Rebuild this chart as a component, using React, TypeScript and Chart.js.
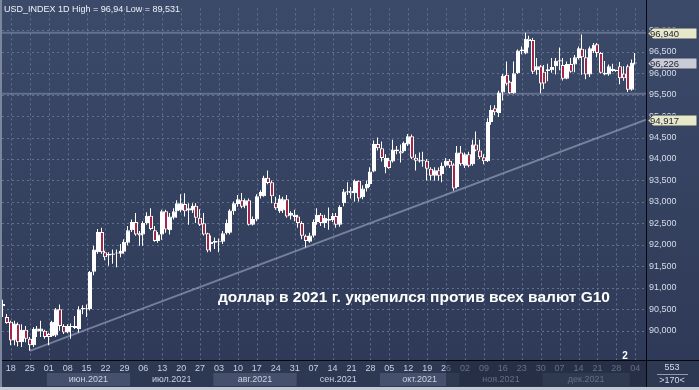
import React, { useEffect, useRef } from 'react';
import { Chart, registerables } from 'chart.js';

Chart.register(...registerables);

const title = 'USD_INDEX 1D High = 96,94 Low = 89,531';
const note = 'доллар в 2021 г. укрепился против всех валют G10';

const opens = [
  90.57, 90.32, 90.21, 89.77, 90.15, 89.73, 90.02, 89.81, 89.66, 89.98,
  89.98, 90.0, 89.92, 89.87, 89.89, 90.5, 90.11, 89.96, 90.11, 90.11,
  90.04, 90.5, 90.52, 90.5, 91.37, 91.83, 92.3, 91.83, 91.75, 91.77,
  91.8, 91.79, 91.84, 92.05, 92.34, 92.53, 92.27, 92.24, 92.51, 92.68,
  92.34, 92.09, 92.24, 92.78, 92.34, 92.63, 92.78, 92.8, 92.95, 92.8,
  92.8, 92.91, 92.63, 92.5, 92.27, 92.02, 92.05, 92.07, 92.07, 92.27,
  92.28, 92.78, 92.95, 93.04, 92.91, 93.04, 92.47, 92.59, 93.13, 93.13,
  93.56, 93.46, 92.98, 92.78, 92.8, 93.06, 92.68, 92.65, 92.66, 92.51,
  92.21, 92.07, 92.21, 92.53, 92.7, 92.51, 92.56, 92.58, 92.67, 92.47,
  92.97, 93.22, 93.26, 93.2, 93.49, 93.11, 93.31, 93.42, 93.71, 94.35,
  94.25, 93.81, 93.97, 93.94, 94.18, 94.18, 94.18, 94.34, 94.53, 94.03,
  93.94, 93.96, 93.96, 93.77, 93.61, 93.74, 93.65, 93.84, 93.96, 93.87,
  93.35, 94.15, 93.84, 94.11, 93.88, 94.34, 94.2, 94.04, 93.95, 94.86,
  95.18, 95.07, 95.55, 95.96, 95.8, 95.53, 96.0, 96.51, 96.46, 96.8,
  96.77, 96.07, 96.16, 96.03, 96.05, 96.07, 96.16, 96.27, 96.19, 95.87,
  96.21, 96.2, 96.35, 96.57, 96.37, 95.97, 96.51, 96.67, 96.47, 96.01,
  95.97, 96.05, 96.06, 96.16, 95.99, 96.16, 95.61, 96.24,
];
const highs = [
  90.72, 90.39, 90.23, 90.23, 90.19, 90.15, 90.11, 89.85, 90.08, 90.11,
  90.23, 90.02, 89.95, 90.23, 90.53, 90.61, 90.15, 90.15, 90.17, 90.34,
  90.57, 90.59, 90.61, 91.39, 91.98, 92.37, 92.4, 91.86, 91.83, 91.89,
  91.89, 92.02, 92.13, 92.44, 92.59, 92.74, 92.32, 92.55, 92.76, 92.85,
  92.44, 92.3, 92.82, 92.82, 92.74, 92.85, 93.04, 93.18, 93.2, 92.97,
  92.97, 92.97, 92.83, 92.74, 92.28, 92.22, 92.17, 92.15, 92.32, 92.59,
  92.83, 93.01, 93.16, 93.21, 93.08, 93.08, 92.66, 93.18, 93.27, 93.61,
  93.73, 93.5, 93.12, 93.16, 93.12, 93.16, 92.78, 92.82, 92.7, 92.55,
  92.24, 92.28, 92.59, 92.85, 92.74, 92.7, 92.87, 92.74, 92.74, 92.92,
  93.3, 93.46, 93.35, 93.52, 93.5, 93.39, 93.5, 93.81, 94.43, 94.5,
  94.41, 94.11, 94.03, 94.45, 94.3, 94.34, 94.41, 94.58, 94.57, 94.11,
  94.15, 94.17, 94.0, 93.81, 93.81, 93.8, 93.92, 94.02, 94.0, 93.9,
  94.3, 94.3, 94.15, 94.17, 94.45, 94.64, 94.45, 94.11, 94.95, 95.25,
  95.25, 95.59, 95.98, 96.27, 95.82, 96.27, 96.55, 96.62, 96.94, 96.87,
  96.82, 96.35, 96.19, 96.19, 96.22, 96.35, 96.35, 96.6, 96.35, 96.27,
  96.35, 96.42, 96.62, 96.9, 96.55, 96.62, 96.7, 96.7, 96.49, 96.28,
  96.2, 96.22, 96.08, 96.26, 96.16, 96.2, 96.32, 96.47,
];
const lows = [
  90.32, 90.16, 89.66, 89.66, 89.63, 89.62, 89.73, 89.531, 89.62, 89.85,
  89.85, 89.81, 89.66, 89.85, 89.85, 90.0, 89.92, 89.94, 89.81, 90.04,
  89.96, 90.38, 90.32, 90.47, 91.29, 91.79, 91.79, 91.64, 91.51, 91.56,
  91.48, 91.71, 91.79, 91.99, 92.3, 92.21, 91.98, 91.98, 92.47, 92.34,
  92.07, 92.05, 92.12, 92.28, 92.24, 92.59, 92.63, 92.76, 92.66, 92.47,
  92.74, 92.51, 92.44, 92.22, 91.83, 91.84, 91.9, 91.83, 92.02, 92.24,
  92.24, 92.7, 92.89, 92.85, 92.85, 92.45, 92.45, 92.55, 93.08, 93.12,
  93.41, 92.97, 92.82, 92.74, 92.74, 92.63, 92.59, 92.55, 92.4, 92.13,
  91.94, 92.05, 92.17, 92.47, 92.44, 92.4, 92.35, 92.53, 92.4, 92.42,
  92.9, 93.16, 93.08, 93.01, 93.01, 93.06, 93.24, 93.35, 93.69, 94.2,
  93.94, 93.67, 93.77, 93.92, 94.11, 93.92, 94.15, 94.3, 94.0, 93.73,
  93.92, 93.82, 93.5, 93.5, 93.49, 93.5, 93.46, 93.81, 93.79, 93.26,
  93.31, 93.84, 93.79, 93.81, 93.84, 94.18, 94.0, 93.88, 93.93, 94.8,
  95.02, 94.98, 95.36, 95.71, 95.52, 95.52, 95.98, 96.44, 96.44, 96.6,
  95.98, 95.96, 95.53, 95.63, 95.81, 96.01, 95.97, 96.07, 95.83, 95.86,
  96.01, 96.02, 96.32, 95.96, 95.86, 95.91, 96.47, 96.37, 95.99, 95.95,
  95.94, 96.03, 96.03, 95.74, 95.82, 95.56, 95.59, 96.2,
];
const closes = [
  90.62, 90.18, 89.77, 90.17, 89.73, 90.02, 89.81, 89.66, 90.04, 90.05,
  90.05, 89.85, 89.85, 90.21, 90.5, 90.11, 89.96, 90.11, 90.08, 90.06,
  90.5, 90.53, 90.5, 91.37, 91.89, 92.3, 91.83, 91.71, 91.79, 91.8,
  91.82, 91.86, 92.07, 92.34, 92.53, 92.24, 92.22, 92.51, 92.68, 92.37,
  92.09, 92.24, 92.78, 92.36, 92.66, 92.78, 92.97, 92.97, 92.78, 92.85,
  92.91, 92.63, 92.47, 92.24, 91.87, 92.07, 92.09, 92.06, 92.27, 92.51,
  92.8, 92.97, 93.06, 92.89, 93.04, 92.47, 92.6, 93.13, 93.23, 93.56,
  93.44, 93.13, 92.85, 93.08, 93.06, 92.66, 92.74, 92.7, 92.51, 92.21,
  92.09, 92.22, 92.53, 92.7, 92.51, 92.63, 92.6, 92.67, 92.47, 92.88,
  93.24, 93.25, 93.2, 93.49, 93.08, 93.31, 93.42, 93.71, 94.35, 94.25,
  94.02, 94.02, 93.79, 94.22, 94.22, 94.13, 94.38, 94.53, 94.03, 93.96,
  93.97, 93.98, 93.77, 93.61, 93.74, 93.61, 93.84, 93.96, 93.84, 93.31,
  94.15, 93.88, 94.11, 93.84, 94.34, 94.2, 94.04, 93.95, 94.86, 95.14,
  95.09, 95.55, 95.94, 95.75, 95.53, 96.0, 96.53, 96.55, 96.8, 96.75,
  96.03, 96.16, 95.76, 95.76, 96.09, 96.14, 96.29, 96.3, 95.87, 96.21,
  96.03, 96.37, 96.58, 96.37, 95.97, 96.58, 96.66, 96.47, 96.01, 95.97,
  96.16, 96.1, 96.05, 95.88, 95.88, 95.61, 96.24, 96.226,
];

const weekTickLabels = [
  '18', '25', '01', '08', '15', '22', '29', '06', '13', '20', '27', '03',
  '10', '17', '24', '31', '07', '14', '21', '28', '05', '12', '19', '26',
  '02', '09', '16', '23', '30', '07', '14', '21', '28', '04',
];
const weekTickIndex = [
  2, 7, 12, 17, 22, 27, 32, 37, 42, 47, 52, 57, 62, 67, 72, 77, 82, 87,
  92, 97, 102, 107, 112, 117, 122, 127, 132, 137, 142, 147, 152, 157, 162, 167,
];
const monthLabels = ['июн.2021', 'июл.2021', 'авг.2021', 'сен.2021', 'окт.2021', 'ноя.2021', 'дек.2021', 'янв.2022'];
const monthStartIndex = [12, 34, 56, 78, 100, 121, 143, 166];
const yTickValues = [90, 90.5, 91, 91.5, 92, 92.5, 93, 93.5, 94, 94.5, 95, 95.5, 96, 96.5, 97];

const xMin = -0.3435;
const xMax = 169.83;
const yMin = 89.317;
const yMax = 97.508;

const highLevel = 96.94;
const supportLevel = 95.52;
const trendIdx = [7, 169.83];
const trendVals = [89.531, 94.917];
const tagValues = [96.94, 96.226, 94.917];
const tagTexts = ['96,940', '96,226', '94,917'];
const dimFromIndex = 117;
const barCount = '553';
const visibleCount = '>170<';

const FONT = '"Liberation Sans", Arial, sans-serif';
const GRID = '#63718f';

const customPlugin = {
  id: 'terminalLook',
  afterDatasetsUpdate(chart: any) {
    chart.data.datasets.forEach((ds: any, di: number) => {
      const meta = chart.getDatasetMeta(di);
      if (ds.label === 'body') meta.data.forEach((el: any) => { el.x = Math.round(el.x); });
      if (ds.label === 'wick') meta.data.forEach((el: any) => { el.x = Math.round(el.x) - 0.5; });
    });
  },
  beforeDraw(chart: any) {
    const { ctx, width, height, chartArea } = chart;
    const xs = chart.scales.x;
    ctx.save();
    const g = ctx.createLinearGradient(0, 0, 0, chartArea.bottom);
    g.addColorStop(0, '#3c4a6a');
    g.addColorStop(1, '#2e3a57');
    ctx.fillStyle = g;
    ctx.fillRect(0, 0, width, height);
    ctx.fillStyle = '#2d3853';
    ctx.fillRect(0, chartArea.bottom, width, height - chartArea.bottom);
    ctx.beginPath();
    ctx.rect(chartArea.left, chartArea.bottom, chartArea.right - chartArea.left, height - chartArea.bottom);
    ctx.clip();
    for (let m = 0; m < monthStartIndex.length; m++) {
      const x0 = xs.getPixelForValue(monthStartIndex[m] - 0.5);
      const x1 = m + 1 < monthStartIndex.length ? xs.getPixelForValue(monthStartIndex[m + 1] - 0.5) : chartArea.right + 60;
      if (m % 2 === 0) {
        ctx.fillStyle = '#45516c';
        ctx.fillRect(x0, 373, x1 - x0, 13);
      }
      ctx.fillStyle = '#c9d1e0';
      ctx.font = '9px ' + FONT;
      ctx.textAlign = 'center';
      ctx.textBaseline = 'middle';
      ctx.fillText(monthLabels[m], (x0 + x1) / 2, 380);
    }
    ctx.restore();
  },
  beforeDatasetsDraw(chart: any) {
    const { ctx, chartArea } = chart;
    const xs = chart.scales.x;
    const ys = chart.scales.y;
    ctx.save();
    ctx.strokeStyle = GRID;
    ctx.lineWidth = 1;
    ctx.setLineDash([2, 3]);
    ctx.beginPath();
    weekTickIndex.forEach((v) => {
      const x = Math.round(xs.getPixelForValue(v)) + 0.5;
      ctx.moveTo(x, chartArea.top);
      ctx.lineTo(x, chartArea.bottom);
    });
    yTickValues.forEach((v) => {
      const y = Math.round(ys.getPixelForValue(v)) + 0.5;
      ctx.moveTo(chartArea.left, y);
      ctx.lineTo(chartArea.right, y);
    });
    ctx.stroke();
    ctx.restore();
  },
  afterDraw(chart: any) {
    const { ctx, width, height, chartArea } = chart;
    const xs = chart.scales.x;
    const ys = chart.scales.y;
    ctx.save();
    const dx = xs.getPixelForValue(dimFromIndex);
    ctx.fillStyle = 'rgba(34,42,62,0.6)';
    ctx.fillRect(dx, chartArea.bottom + 1, chartArea.right - dx, 386 - chartArea.bottom - 1);
    ctx.fillStyle = '#05070c';
    ctx.fillRect(chartArea.right, 0, 1, 387);
    ctx.fillRect(0, chartArea.bottom, width, 1);
    ctx.fillStyle = '#eef1f6';
    ctx.font = '9px ' + FONT;
    ctx.textAlign = 'left';
    ctx.textBaseline = 'middle';
    ctx.fillText(title, 4, 9.5);
    ctx.font = 'bold 15.5px ' + FONT;
    ctx.fillStyle = '#ffffff';
    ctx.fillText(note, 218, 298);
    ctx.font = 'bold 10px ' + FONT;
    ctx.textAlign = 'center';
    ctx.fillText('2', 625, 356);
    const fills = ['#e7e7c9', '#c9ccd8', '#e7e7c9'];
    tagValues.forEach((v, k) => {
      const y = Math.round(ys.getPixelForValue(v)) + 0.5;
      const l = chartArea.right + 1;
      ctx.beginPath();
      ctx.moveTo(l + 1, y);
      ctx.lineTo(l + 6, y - 5.5);
      ctx.lineTo(width - 2, y - 5.5);
      ctx.lineTo(width - 2, y + 5.5);
      ctx.lineTo(l + 6, y + 5.5);
      ctx.closePath();
      ctx.fillStyle = fills[k];
      ctx.fill();
      ctx.strokeStyle = '#3a4258';
      ctx.lineWidth = 1;
      ctx.stroke();
      ctx.fillStyle = '#1d2230';
      ctx.font = '9.5px ' + FONT;
      ctx.textAlign = 'left';
      ctx.textBaseline = 'middle';
      ctx.fillText(tagTexts[k], l + 3, y + 0.5);
    });
    ctx.fillStyle = '#d6dcea';
    ctx.font = '9px ' + FONT;
    ctx.textAlign = 'center';
    ctx.fillText(barCount, 672, 368);
    ctx.fillText(visibleCount, 672, 381);
    ctx.fillStyle = '#8f9ab0';
    ctx.fillRect(657, 374, 31, 1);
    ctx.fillStyle = '#7c879b';
    ctx.fillRect(0, 0, 2, height);
    ctx.fillStyle = '#c3cad4';
    ctx.fillRect(0, 387, width, 3);
    ctx.restore();
  },
};

const bodyColors = opens.map((o, i) => (closes[i] >= o ? '#ffffff' : '#a3264a'));

export default function App() {
  const ref = useRef<HTMLCanvasElement>(null);
  useEffect(() => {
    document.body.style.margin = '0';
    const chart = new Chart(ref.current as HTMLCanvasElement, {
      type: 'bar',
      data: {
        datasets: [
          {
            label: 'body',
            type: 'bar',
            data: opens.map((o, i) => ({ x: i, y: [o, closes[i]] })) as any,
            backgroundColor: bodyColors,
            borderColor: '#ffffff',
            borderWidth: 1,
            borderSkipped: false,
            barThickness: 4,
            minBarLength: 1,
            grouped: false,
            inflateAmount: 0,
            order: 1,
          } as any,
          {
            label: 'wick',
            type: 'bar',
            data: lows.map((l, i) => ({ x: i, y: [l, highs[i]] })) as any,
            backgroundColor: '#ffffff',
            borderWidth: 0,
            barThickness: 1,
            grouped: false,
            inflateAmount: 0,
            order: 2,
          } as any,
          {
            label: 'trend',
            type: 'line',
            data: [{ x: trendIdx[0], y: trendVals[0] }, { x: trendIdx[1], y: trendVals[1] }],
            borderColor: 'rgba(160,172,196,0.6)',
            borderWidth: 2,
            pointRadius: 0,
            order: 3,
          } as any,
          {
            label: 'high',
            type: 'line',
            data: [{ x: xMin, y: highLevel }, { x: xMax, y: highLevel }],
            borderColor: 'rgba(165,176,198,0.4)',
            borderWidth: 2,
            pointRadius: 0,
            order: 4,
          } as any,
          {
            label: 'support',
            type: 'line',
            data: [{ x: xMin, y: supportLevel }, { x: xMax, y: supportLevel }],
            borderColor: 'rgba(165,176,198,0.4)',
            borderWidth: 2,
            pointRadius: 0,
            order: 5,
          } as any,
        ],
      },
      options: {
        responsive: true,
        maintainAspectRatio: false,
        animation: false,
        events: [],
        layout: { padding: { left: 2, right: 0, top: 0, bottom: 0 } },
        plugins: { legend: { display: false }, tooltip: { enabled: false } },
        scales: {
          x: {
            type: 'linear',
            min: xMin,
            max: xMax,
            offset: false,
            afterFit: (s: any) => { s.height = 30; },
            afterBuildTicks: (s: any) => { s.ticks = weekTickIndex.map((v) => ({ value: v })); },
            grid: { display: false, offset: false, drawTicks: false },
            border: { display: false },
            ticks: {
              autoSkip: false,
              maxRotation: 0,
              padding: 3,
              color: '#c9d1e0',
              font: { family: FONT, size: 9 },
              callback: (_v: any, idx: number) => weekTickLabels[idx],
            },
          } as any,
          y: {
            type: 'linear',
            position: 'right',
            min: yMin,
            max: yMax,
            afterFit: (s: any) => { s.width = 53; },
            afterBuildTicks: (s: any) => { s.ticks = yTickValues.map((v) => ({ value: v })); },
            grid: { display: false, drawTicks: false },
            border: { display: false },
            ticks: {
              padding: 3,
              color: '#d6dcea',
              font: { family: FONT, size: 9 },
              callback: (v: any) => Number(v).toFixed(3).replace('.', ','),
            },
          } as any,
        },
      },
      plugins: [customPlugin],
    });
    return () => chart.destroy();
  }, []);
  return (
    <div style={{ position: 'fixed', left: 0, top: 0, width: 699, height: 390, background: '#2e3a57' }}>
      <canvas ref={ref} />
    </div>
  );
}
